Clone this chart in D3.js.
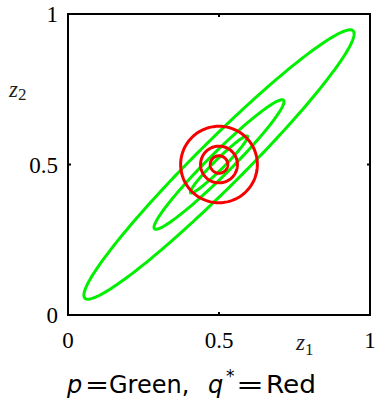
<!DOCTYPE html>
<html>
<head>
<meta charset="utf-8">
<script src="https://cdn.jsdelivr.net/npm/d3@7"></script>
<style>
  body { margin: 0; background: #fff; }
  svg { display: block; }
</style>
</head>
<body>
<div id="chart"></div>
<script>
// contour data (data units)
const center = [0.5, 0.5];
const pAngle = 45; // degrees, major axis of p
const pMajor = [0.628, 0.302, 0.133];
const pMinor = [0.0775, 0.0373, 0.0164];
const qRadius = [0.127, 0.061, 0.029];
const xTicks = [0, 0.5, 1];
const yTicks = [0, 0.5, 1];
const tickLabels = ['0', '0.5', '1'];

const width = 376, height = 400;
const margin = { top: 14, right: 6, bottom: 85, left: 68 };
const w = width - margin.left - margin.right;
const h = height - margin.top - margin.bottom;

const svg = d3.select('#chart')
  .append('svg')
  .attr('width', width)
  .attr('height', height);

const g = svg.append('g')
  .attr('transform', `translate(${margin.left},${margin.top})`);

const x = d3.scaleLinear().domain([0, 1]).range([0, w]);
const y = d3.scaleLinear().domain([0, 1]).range([h, 0]);

const line = d3.line()
  .x(d => x(d[0]))
  .y(d => y(d[1]))
  .curve(d3.curveLinearClosed);

function ellipse(a, b, deg) {
  const th = deg * Math.PI / 180;
  return d3.range(0, 360, 2).map(k => {
    const t = k * Math.PI / 180;
    const u = a * Math.cos(t), v = b * Math.sin(t);
    return [center[0] + u * Math.cos(th) - v * Math.sin(th),
            center[1] + u * Math.sin(th) + v * Math.cos(th)];
  });
}

g.selectAll('.p')
  .data(pMajor)
  .enter()
  .append('path')
  .attr('fill', 'none')
  .attr('stroke', '#00f000')
  .attr('stroke-width', 3)
  .attr('d', (d, i) => line(ellipse(d, pMinor[i], pAngle)));

g.selectAll('.q')
  .data(qRadius)
  .enter()
  .append('path')
  .attr('fill', 'none')
  .attr('stroke', '#f50000')
  .attr('stroke-width', 3)
  .attr('d', d => line(ellipse(d, d, 0)));

// frame
g.append('rect')
  .attr('width', w)
  .attr('height', h)
  .attr('fill', 'none')
  .attr('stroke', '#000')
  .attr('stroke-width', 2);

// inward ticks on all sides
const tk = 3;
xTicks.forEach(v => {
  g.append('line').attr('x1', x(v)).attr('x2', x(v)).attr('y1', h).attr('y2', h - tk)
    .attr('stroke', '#000').attr('stroke-width', 2);
  g.append('line').attr('x1', x(v)).attr('x2', x(v)).attr('y1', 0).attr('y2', tk)
    .attr('stroke', '#000').attr('stroke-width', 2);
});
yTicks.forEach(v => {
  g.append('line').attr('x1', 0).attr('x2', tk).attr('y1', y(v)).attr('y2', y(v))
    .attr('stroke', '#000').attr('stroke-width', 2);
  g.append('line').attr('x1', w).attr('x2', w - tk).attr('y1', y(v)).attr('y2', y(v))
    .attr('stroke', '#000').attr('stroke-width', 2);
});

const serif = '"Liberation Serif", serif';

g.selectAll('.xl')
  .data(xTicks)
  .enter()
  .append('text')
  .attr('x', d => x(d))
  .attr('y', h + 33)
  .attr('text-anchor', 'middle')
  .style('font-family', serif)
  .style('font-size', '23px')
  .text((d, i) => tickLabels[i]);

g.selectAll('.yl')
  .data(yTicks)
  .enter()
  .append('text')
  .attr('x', -10)
  .attr('y', d => y(d) + 8)
  .attr('text-anchor', 'end')
  .style('font-family', serif)
  .style('font-size', '23px')
  .text((d, i) => tickLabels[i]);

// axis labels
const zl = svg.append('text')
  .attr('x', 296)
  .attr('y', 350)
  .style('font-family', serif)
  .style('font-size', '23px')
  .attr('fill', '#222');
zl.append('tspan').style('font-style', 'italic').text('z');
zl.append('tspan').attr('dy', 5).style('font-size', '17px').text('1');

const zl2 = svg.append('text')
  .attr('x', 9)
  .attr('y', 97)
  .style('font-family', serif)
  .style('font-size', '23px')
  .attr('fill', '#222');
zl2.append('tspan').style('font-style', 'italic').text('z');
zl2.append('tspan').attr('dy', 3).style('font-size', '17px').text('2');

// caption
const sans = '"DejaVu Sans", sans-serif';
const cap = [
  { t: 'p', x: 67, it: true },
  { t: '=', x: 85, len: 24 },
  { t: 'Green,', x: 109 },
  { t: 'q', x: 208, it: true },
  { t: '*', x: 226, sup: true },
  { t: '=', x: 236, len: 28 },
  { t: 'Red', x: 266, len: 50 }
];
svg.selectAll('.cap')
  .data(cap)
  .enter()
  .append('text')
  .attr('x', d => d.x)
  .attr('y', d => d.sup ? 382 : 393)
  .attr('textLength', d => d.len || null)
  .attr('lengthAdjust', 'spacingAndGlyphs')
  .style('font-family', sans)
  .style('font-size', d => d.sup ? '17px' : '24px')
  .style('font-style', d => d.it ? 'italic' : 'normal')
  .text(d => d.t);
</script>
</body>
</html>
